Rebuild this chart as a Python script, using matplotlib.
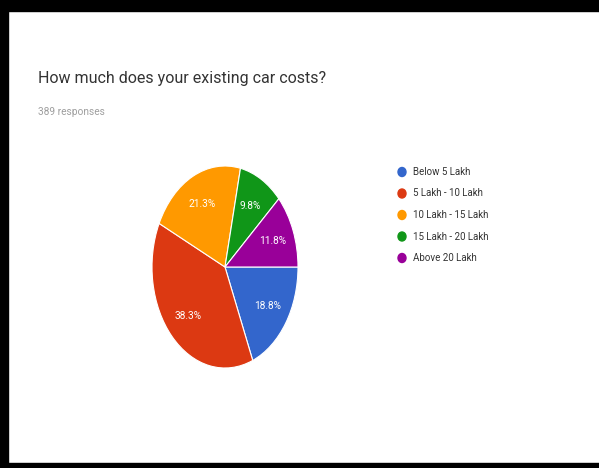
import matplotlib
matplotlib.use("Agg")
import matplotlib.pyplot as plt
from matplotlib.patches import Rectangle, Ellipse

categories = ["Below 5 Lakh", "5 Lakh - 10 Lakh", "10 Lakh - 15 Lakh", "15 Lakh - 20 Lakh", "Above 20 Lakh"]
values = [18.8, 38.3, 21.3, 9.8, 11.8]
colors = ["#3366CC", "#DC3912", "#FF9900", "#109618", "#990099"]
title = "How much does your existing car costs?"
subtitle = "389 responses"

W, H = 599, 468
fig = plt.figure(figsize=(W / 100, H / 100), dpi=100)
fig.patch.set_facecolor("white")

# border
fig.patches.append(Rectangle((0, 0), 8 / W, 1, transform=fig.transFigure, color="black", zorder=0))
fig.patches.append(Rectangle((0, 1 - 11 / H), 1, 11 / H, transform=fig.transFigure, color="black", zorder=0))
fig.patches.append(Rectangle((0, 0), 1, 5 / H, transform=fig.transFigure, color="black", zorder=0))

fig.text(38 / W, 1 - 78 / H, title, fontsize=11.5, family="Roboto", color="#333333", va="center", ha="left")
fig.text(38 / W, 1 - 112 / H, subtitle, fontsize=7.3, family="Roboto", color="#9e9e9e", va="center", ha="left")

# pie axes (elliptical)
cx, cy, rx, ry = 225, 267, 73, 101
ax = fig.add_axes([(cx - rx) / W, 1 - (cy + ry) / H, 2 * rx / W, 2 * ry / H])
wedges, texts, autotexts = ax.pie(
    values, colors=colors, startangle=0, counterclock=False,
    autopct=lambda p: f"{p:.1f}%", pctdistance=0.7,
    wedgeprops=dict(edgecolor="white", linewidth=0.8),
    textprops=dict(color="white", fontsize=7.3, family="Roboto"))
ax.set_aspect("auto")
ax.set_xlim(-1, 1)
ax.set_ylim(-1, 1)
ax.axis("off")

# legend
lx, ly0, dy = 402, 172, 21.5
for i, (c, lab) in enumerate(zip(colors, categories)):
    y = 1 - (ly0 + i * dy) / H
    fig.patches.append(Ellipse((lx / W, y), 8 / W, 9 / H, transform=fig.transFigure, color=c))
    fig.text(413 / W, y, lab, fontsize=7, family="Roboto", color="#333333", va="center", ha="left")

fig.savefig("out.png", dpi=100)
